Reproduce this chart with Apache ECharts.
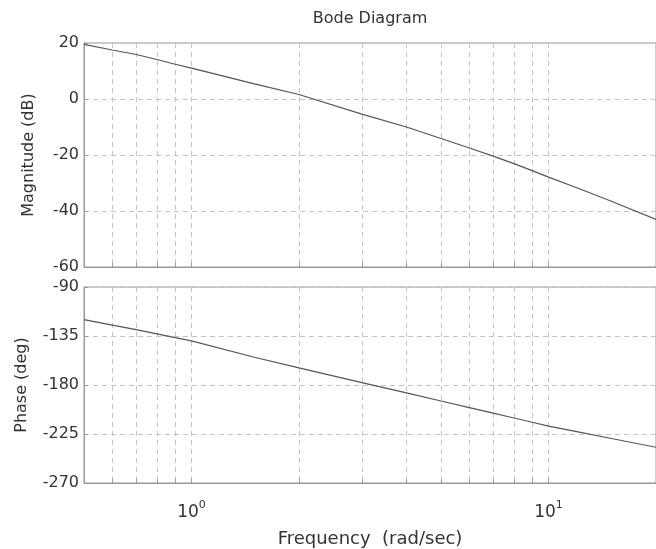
<!DOCTYPE html>
<html>
<head>
<meta charset="utf-8">
<script src="https://cdn.jsdelivr.net/npm/echarts@6/dist/echarts.min.js"></script>
<style>
  html, body { margin: 0; padding: 0; background: #fff; }
  #chart { width: 656px; height: 549px; }
</style>
</head>
<body>
<div id="chart"></div>
<script>
// frequency (rad/sec) and the two responses
var freq = [0.5, 0.6, 0.7, 0.8, 0.9, 1, 1.5, 2, 3, 4, 5, 6, 7, 8, 9, 10, 12, 15, 20];
var magDb = [19.5, 17.5, 15.9, 14.1, 12.4, 11.0, 5.4, 1.6, -5.4, -10.0, -14.1, -17.5, -20.4, -23.1, -25.6, -27.9, -31.7, -36.5, -43.0];
var phaseDeg = [-120, -125, -129.2, -133, -136.5, -139.5, -154.5, -164.3, -177.8, -187.3, -194.7, -200.8, -205.9, -210.3, -214.2, -217.7, -222.8, -229.1, -237.2];

// grid / tick positions on the log axis
var freqTicks = [0.5, 0.6, 0.7, 0.8, 0.9, 1, 2, 3, 4, 5, 6, 7, 8, 9, 10, 20];
var freqLabels = [1, 10];

var font = 'DejaVu Sans';
var textColor = '#333';

function pairs(xs, ys) {
    return xs.map(function (x, i) { return [x, ys[i]]; });
}

function freqAxis(gridIndex, showLabels) {
    return {
        type: 'log',
        logBase: 10,
        gridIndex: gridIndex,
        min: 0.5,
        max: 20,
        axisLine: { show: true, onZero: false, lineStyle: { color: '#999' } },
        axisTick: {
            show: true, inside: true, length: 4,
            customValues: freqTicks,
            lineStyle: { color: '#999' }
        },
        axisLabel: {
            show: showLabels,
            customValues: freqLabels,
            margin: 17,
            color: textColor,
            fontFamily: font,
            fontSize: 17,
            formatter: function (v) {
                return '10{sup|' + Math.round(Math.log10(v)) + '}';
            },
            rich: {
                sup: { fontSize: 11, fontFamily: font, color: textColor, padding: [0, 0, 15, 0] }
            }
        },
        splitLine: {
            show: true,
            lineStyle: { color: '#c4c4c4', type: [5, 4], width: 1 }
        }
    };
}

function valAxis(gridIndex, min, max, interval, name, gap) {
    return {
        type: 'value',
        gridIndex: gridIndex,
        min: min,
        max: max,
        interval: interval,
        name: name,
        nameLocation: 'middle',
        nameGap: gap,
        nameTextStyle: { color: textColor, fontFamily: font, fontSize: 16 },
        axisLine: { show: true, onZero: false, lineStyle: { color: '#999' } },
        axisTick: { show: true, inside: true, length: 4, lineStyle: { color: '#999' } },
        axisLabel: { margin: 5, color: textColor, fontFamily: font, fontSize: 16 },
        splitLine: {
            show: true,
            lineStyle: { color: '#c4c4c4', type: [5, 4], width: 1 }
        }
    };
}

var chart = echarts.init(document.getElementById('chart'), null, { renderer: 'canvas' });

var option = {
    backgroundColor: '#fff',
    animation: false,
    title: {
        text: 'Bode Diagram',
        left: 370,
        textAlign: 'center',
        top: 11,
        padding: 0,
        textStyle: { color: textColor, fontFamily: font, fontSize: 16, fontWeight: 'normal' }
    },
    grid: [
        { left: 84, top: 43, right: 0, height: 224, show: true, borderColor: '#999', borderWidth: 1 },
        { left: 84, top: 287, right: 0, height: 196, show: true, borderColor: '#999', borderWidth: 1 }
    ],
    xAxis: [
        freqAxis(0, false),
        Object.assign(freqAxis(1, true), {
            name: 'Frequency  (rad/sec)',
            nameLocation: 'middle',
            nameGap: 47,
            nameTextStyle: { color: textColor, fontFamily: font, fontSize: 18 }
        })
    ],
    yAxis: [
        valAxis(0, -60, 20, 20, 'Magnitude (dB)', 47),
        valAxis(1, -270, -90, 45, 'Phase (deg)', 54)
    ],
    series: [
        {
            name: 'Magnitude',
            type: 'line',
            xAxisIndex: 0,
            yAxisIndex: 0,
            data: pairs(freq, magDb),
            showSymbol: false,
            lineStyle: { color: '#555', width: 1.2 }
        },
        {
            name: 'Phase',
            type: 'line',
            xAxisIndex: 1,
            yAxisIndex: 1,
            data: pairs(freq, phaseDeg),
            showSymbol: false,
            lineStyle: { color: '#555', width: 1.2 }
        }
    ]
};

chart.setOption(option);
</script>
</body>
</html>
